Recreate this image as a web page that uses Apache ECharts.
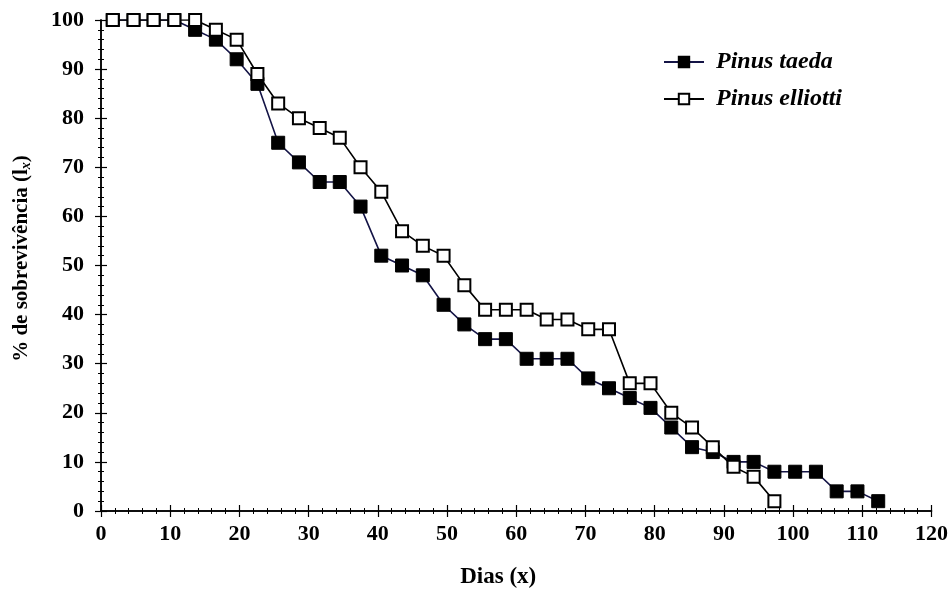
<!DOCTYPE html>
<html>
<head>
<meta charset="utf-8">
<title>Sobrevivência</title>
<script src="https://cdn.jsdelivr.net/npm/echarts@6/dist/echarts.min.js"></script>
<style>
  html, body { margin: 0; padding: 0; background: #fff; }
  #chart { width: 951px; height: 594px; }
</style>
</head>
<body>
<div id="chart"></div>
<script>
// dias de observação (eixo x)
const dias = [1.7, 4.7, 7.6, 10.6, 13.6, 16.6, 19.6, 22.6, 25.6, 28.6, 31.6, 34.5, 37.5,
  40.5, 43.5, 46.5, 49.5, 52.5, 55.5, 58.5, 61.5, 64.4, 67.4, 70.4, 73.4, 76.4,
  79.4, 82.4, 85.4, 88.4, 91.4, 94.3, 97.3, 100.3, 103.3, 106.3, 109.3, 112.3]
// % de sobrevivência
const taeda = [100, 100, 100, 100, 98, 96, 92, 87, 75, 71, 67, 67, 62, 52, 50, 48, 42, 38,
  35, 35, 31, 31, 31, 27, 25, 23, 21, 17, 13, 12, 10, 10, 8, 8, 8, 4, 4, 2]
const elliottii = [100, 100, 100, 100, 100, 98, 96, 89, 83, 80, 78, 76, 70, 65, 57, 54, 52,
  46, 41, 41, 41, 39, 39, 37, 37, 26, 26, 20, 17, 13, 9, 7, 2]
const nomes = ['Pinus taeda', 'Pinus elliottii']

const fonte = 'Liberation Serif, Times New Roman, serif'

function pares (valores) {
  return valores.map((v, i) => [dias[i], v])
}

const chart = echarts.init(document.getElementById('chart'))

const eixoBase = {
  axisLine: { show: true, lineStyle: { color: '#000', width: 1.5 } },
  axisTick: { show: true, inside: true, length: 6, lineStyle: { color: '#000', width: 1.2 } },
  minorTick: { show: true, splitNumber: 5, length: 3, lineStyle: { color: '#000', width: 1 } },
  splitLine: { show: false }
}

const rotulo = { fontFamily: fonte, fontSize: 22, fontWeight: 'bold', color: '#000' }

const option = {
  animation: false,
  grid: { left: 101, right: 19, top: 20, bottom: 80 },
  legend: {
    orient: 'vertical',
    left: 658,
    top: 45,
    itemWidth: 40,
    itemHeight: 13,
    itemGap: 13,
    data: nomes,
    textStyle: {
      fontFamily: fonte,
      fontSize: 24,
      fontWeight: 'bold',
      fontStyle: 'italic',
      color: '#000',
      padding: [0, 0, 0, 7],
      width: 130,
      overflow: 'truncate',
      ellipsis: ''
    }
  },
  xAxis: [
    Object.assign({}, eixoBase, {
      type: 'value',
      min: 0,
      max: 120,
      interval: 10,
      name: 'Dias (x)',
      nameLocation: 'middle',
      nameGap: 55,
      nameTextStyle: { fontFamily: fonte, fontSize: 23, fontWeight: 'bold', color: '#000', padding: [0, 36, 0, 0] },
      axisLabel: Object.assign({ margin: 12 }, rotulo)
    }),
    Object.assign({}, eixoBase, {
      type: 'value',
      position: 'top',
      min: 0,
      max: 120,
      interval: 10,
      axisLabel: { show: false }
    })
  ],
  yAxis: [
    Object.assign({}, eixoBase, {
      type: 'value',
      min: 0,
      max: 100,
      interval: 10,
      name: '% de sobrevivência (l{sub|x})',
      nameLocation: 'middle',
      nameRotate: 90,
      nameGap: 68,
      nameTextStyle: {
        fontFamily: fonte,
        fontSize: 21,
        fontWeight: 'bold',
        color: '#000',
        padding: [0, 0, 0, 14],
        rich: {
          sub: { fontFamily: fonte, fontSize: 14, fontWeight: 'bold', fontStyle: 'italic', verticalAlign: 'bottom', padding: [9, 0, 0, 0] }
        }
      },
      axisLabel: Object.assign({ margin: 17 }, rotulo)
    }),
    Object.assign({}, eixoBase, {
      type: 'value',
      position: 'right',
      min: 0,
      max: 100,
      interval: 10,
      axisLabel: { show: false }
    })
  ],
  series: [
    {
      name: nomes[0],
      type: 'line',
      data: pares(taeda),
      symbol: 'rect',
      symbolSize: 13,
      lineStyle: { color: '#141446', width: 1.6 },
      itemStyle: { color: '#000', borderColor: '#000', borderWidth: 1 },
      z: 2
    },
    {
      name: nomes[1],
      type: 'line',
      data: pares(elliottii),
      symbol: 'rect',
      symbolSize: 12,
      lineStyle: { color: '#000', width: 1.6 },
      itemStyle: { color: '#fff', borderColor: '#000', borderWidth: 2 },
      z: 3
    }
  ]
}

chart.setOption(option)
</script>
</body>
</html>
